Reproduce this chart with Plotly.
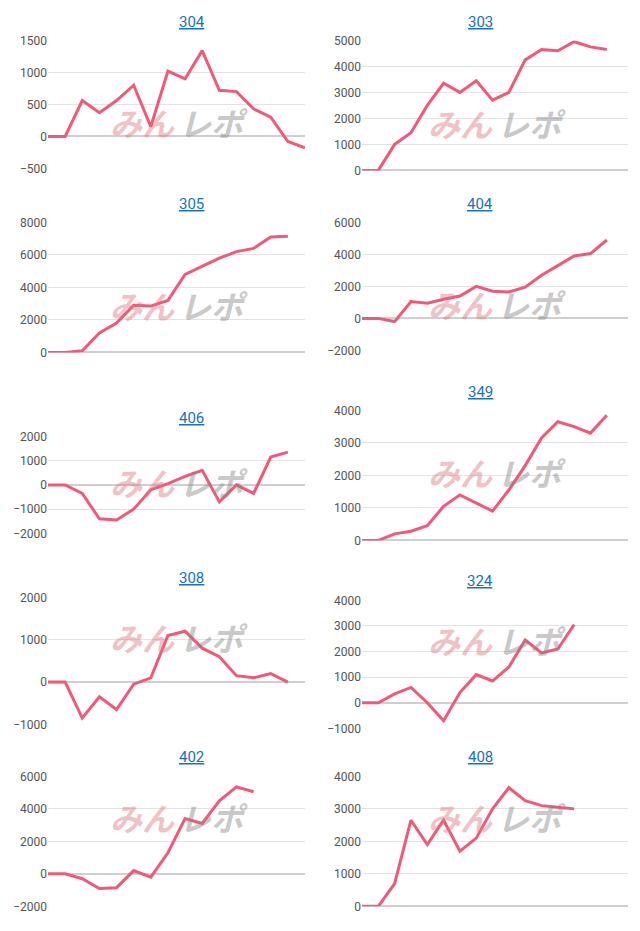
import plotly.graph_objects as go

W, H = 640, 931

titles = ["304", "303", "305", "404", "406", "349", "308", "324", "402", "408"]
v304 = [0, 0, 560, 370, 560, 800, 150, 1020, 900, 1340, 720, 700, 430, 300, -80, -180]
v303 = [0, 0, 1000, 1450, 2500, 3350, 3000, 3450, 2700, 3000, 4250, 4650, 4600, 4950, 4750, 4650]
v305 = [0, 0, 100, 1200, 1800, 2900, 2850, 3200, 4800, 5300, 5800, 6200, 6400, 7100, 7150]
v404 = [0, 0, -200, 1050, 950, 1200, 1400, 2000, 1700, 1650, 1950, 2700, 3300, 3900, 4050, 4900]
v406 = [0, 0, -350, -1400, -1450, -1000, -200, 50, 350, 600, -700, 0, -350, 1150, 1350]
v349 = [0, 0, 200, 280, 450, 1050, 1400, 1150, 900, 1550, 2300, 3150, 3650, 3500, 3300, 3850]
v308 = [0, 0, -850, -350, -650, -50, 100, 1100, 1200, 800, 600, 150, 100, 200, 0]
v324 = [0, 0, 350, 600, 0, -700, 400, 1100, 850, 1400, 2450, 1950, 2100, 3050]
v402 = [0, 0, -300, -900, -850, 200, -200, 1300, 3400, 3100, 4500, 5350, 5050]
v408 = [0, 0, 700, 2650, 1900, 2650, 1700, 2100, 3000, 3650, 3250, 3100, 3050, 3000]
series = [v304, v303, v305, v404, v406, v349, v308, v324, v402, v408]

# y ranges and tick step per chart
yranges = [(-500, 1500, 500), (0, 5000, 1000), (0, 8000, 2000), (-2000, 6000, 2000),
           (-2000, 2000, 1000), (0, 4000, 1000), (-1000, 2000, 1000), (-1000, 4000, 1000),
           (-2000, 6000, 2000), (0, 4000, 1000)]
# pixel top / bottom of each plot area
pix = [(40, 168), (40, 170), (222, 352), (222, 350), (436, 533), (410, 540),
       (597, 724), (600, 728), (776, 906), (776, 906)]


def py(p):
    # compensate for the slight vertical squeeze seen in the rendering
    return (p - 6.6) / 0.985


fig = go.Figure()
for i, (t, vals) in enumerate(zip(titles, series)):
    n = i + 1
    left = i % 2 == 0
    xd = [48 / W, 305 / W] if left else [362 / W, 628 / W]
    top, bot = py(pix[i][0]), py(pix[i][1])
    yd = [max(0, 1 - bot / H), 1 - top / H]
    ax = "" if n == 1 else str(n)
    fig.add_trace(go.Scatter(x=list(range(len(vals))), y=vals, mode="lines",
                             line=dict(color="#f2587a", width=3), showlegend=False,
                             xaxis="x" + ax, yaxis="y" + ax))
    lo, hi, step = yranges[i]
    fig.layout["xaxis" + ax] = dict(domain=xd, range=[0, 15 if left else 16.3],
                                    showgrid=False, showticklabels=False, zeroline=False,
                                    anchor="y" + ax, fixedrange=True)
    fig.layout["yaxis" + ax] = dict(domain=yd, range=[lo, hi], dtick=step, tick0=lo,
                                    gridcolor="#e3e3e3", zeroline=True, zerolinecolor="#cfcfcf",
                                    tickfont=dict(size=12, color="#555"), anchor="x" + ax,
                                    ticks="", fixedrange=True)
    cx = (xd[0] + xd[1]) / 2
    fig.add_annotation(text="<u>" + t + "</u>", x=cx, y=yd[1] + 8 / H, xref="paper", yref="paper",
                       yanchor="bottom", showarrow=False, font=dict(size=15, color="#1a6fc4"))
    wy = 1 - (top + bot) / 2 / H
    fig.add_annotation(text="<b><i>みん</i></b>", x=cx, y=wy, xref="paper", yref="paper",
                       xanchor="right", showarrow=False, opacity=0.45,
                       font=dict(size=32, color="#e07a80"))
    fig.add_annotation(text="<b><i>レポ</i></b>", x=cx, y=wy, xref="paper", yref="paper",
                       xanchor="left", showarrow=False, opacity=0.45,
                       font=dict(size=32, color="#888"))

fig.update_layout(width=W, height=H, margin=dict(l=0, r=0, t=0, b=0),
                  plot_bgcolor="white", paper_bgcolor="white",
                  font=dict(family="Roboto, Noto Sans CJK JP"))
fig.write_html("out.html", config={"displayModeBar": False},
               post_script="document.body.style.margin='0';document.body.style.overflow='hidden';")
